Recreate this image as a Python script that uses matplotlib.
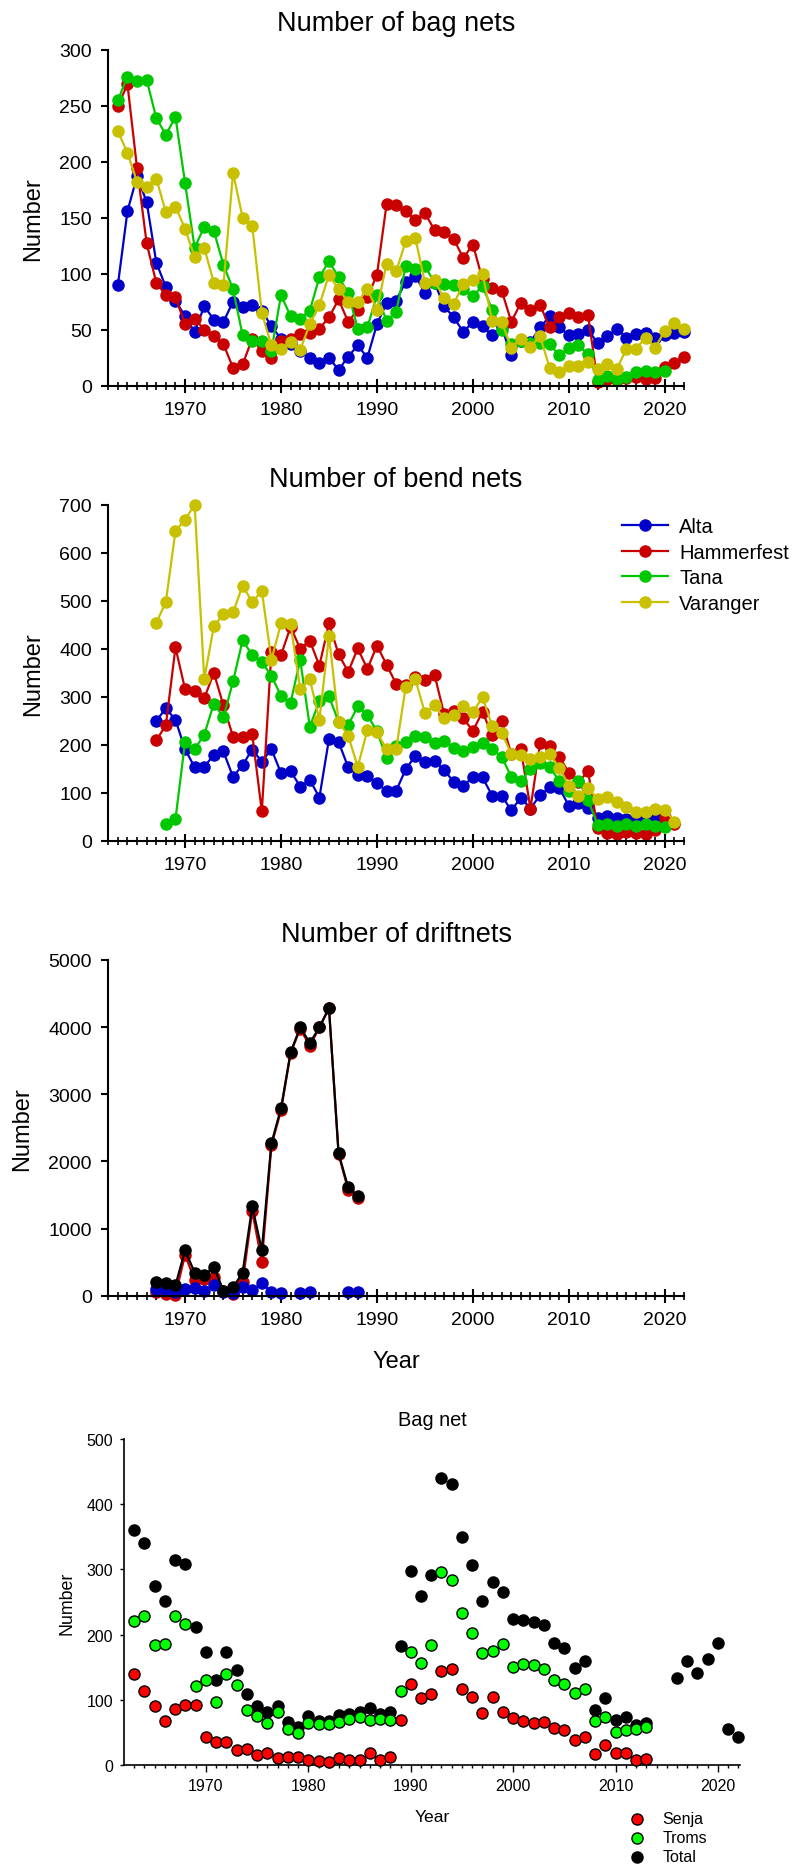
import numpy as np
import matplotlib
matplotlib.use('Agg')
import matplotlib.pyplot as plt
from matplotlib.ticker import MultipleLocator, FixedLocator

plt.rcParams['font.family'] = ['Liberation Sans', 'DejaVu Sans']

nan = np.nan

# Number of bag nets, 1963-2022
years_bag = list(range(1963, 2023))
bag_alta = [90, 156, 187, 164, 110, 88, 76, 62, 48, 71,
            59, 57, 75, 70, 72, 67, 53, 42, 37, 31,
            25, 20, 25, 14, 26, 36, 25, 55, 74, 76,
            93, 98, 83, 92, 71, 61, 48, 57, 53, 45,
            52, 27, 40, 39, 52, 62, 52, 45, 46, 50,
            38, 44, 51, 43, 46, 47, 43, 45, 47, 48]
bag_hammerfest = [250, 269, 194, 127, 92, 81, 79, 55, 60, 50,
                  44, 37, 16, 19, 42, 31, 25, 40, 42, 46,
                  47, 51, 61, 77, 57, 68, 79, 99, 162, 161,
                  156, 148, 154, 139, 137, 131, 114, 126, 95, 87,
                  85, 57, 74, 68, 72, 52, 61, 65, 61, 63,
                  3, 6, 5, 7, 8, 6, 7, 17, 20, 26]
bag_tana = [255, 276, 272, 273, 239, 224, 240, 181, 123, 142,
            138, 108, 86, 45, 40, 40, 31, 81, 62, 60,
            67, 97, 111, 97, 83, 51, 52, 81, 58, 66,
            107, 104, 107, 92, 91, 90, 86, 80, 89, 68,
            50, 37, 40, 38, 38, 37, 27, 34, 36, 28,
            5, 9, 6, 8, 12, 13, 12, 13, nan, nan]
bag_varanger = [227, 208, 182, 177, 185, 155, 160, 140, 115, 123,
                92, 90, 190, 150, 143, 65, 36, 33, 39, 32,
                55, 72, 99, 86, 75, 75, 86, 68, 109, 102,
                129, 132, 92, 94, 78, 73, 91, 94, 100, 58,
                57, 34, 42, 35, 44, 16, 12, 18, 18, 21,
                15, 19, 15, 33, 33, 43, 34, 49, 56, 51]

# Number of bend nets, 1967-2021
years_bend = list(range(1967, 2022))
bend_alta = [250, 276, 252, 191, 153, 154, 179, 186, 133, 158,
             190, 165, 191, 141, 145, 113, 127, 90, 212, 206,
             153, 136, 134, 120, 104, 104, 149, 177, 165, 167,
             147, 123, 115, 132, 132, 94, 94, 63, 90, 67,
             95, 111, 110, 73, 79, 68, 47, 51, 47, 45,
             45, 49, 51, 45, nan]
bend_hammerfest = [209, 241, 403, 316, 313, 297, 350, 282, 217, 217,
                   222, 61, 393, 387, 446, 400, 417, 365, 453, 389,
                   352, 401, 358, 407, 367, 327, 325, 342, 336, 346,
                   264, 271, 255, 229, 269, 220, 249, 181, 191, 67,
                   203, 198, 175, 142, 122, 145, 26, 17, 14, 19,
                   17, 14, 23, 49, 35]
bend_tana = [nan, 35, 45, 206, 191, 221, 286, 257, 332, 418,
             387, 372, 344, 302, 288, 377, 238, 291, 301, 248,
             241, 280, 262, 228, 172, 198, 206, 219, 217, 204,
             207, 193, 188, 195, 204, 191, 175, 133, 125, 149,
             163, 153, 125, 103, 125, 85, 33, 35, 31, 35,
             31, 35, 31, 29, nan]
bend_varanger = [454, 498, 646, 669, 701, 337, 447, 473, 476, 532,
                 497, 521, 377, 453, 452, 316, 337, 252, 427, 248,
                 219, 154, 231, 226, 191, 191, 321, 337, 266, 282,
                 255, 263, 280, 268, 299, 240, 225, 181, 179, 170,
                 174, 181, 152, 115, 94, 110, 87, 92, 80, 70,
                 59, 59, 66, 65, 40]

# Number of driftnets, 1967-1988
years_drift = list(range(1967, 1989))
drift_hammerfest = [60, 20, 10, 610, 230, 255, 280, 65, 20, 205,
                    1260, 505, 2240, 2760, 3615, 3975, 3720, 3995, 4285, 2110,
                    1570, 1455]
drift_alta = [100, 90, 60, 94, 109, 70, 159, 50, 40, 134,
              84, 184, 60, 45, nan, 45, 60, nan, nan, nan,
              60, 50]
drift_total = [205, 195, 155, 675, 345, 305, 432, 75, 124, 343,
               1330, 680, 2270, 2790, 3625, 3997, 3764, 3997, 4285, 2120,
               1614, 1480]

# Bag nets in Troms, 1963-2022
years_troms = list(range(1963, 2023))
senja = [139, 113, 91, 67, 86, 92, 92, 43, 35, 35,
         23, 25, 16, 18, 11, 12, 12, 8, 6, 4,
         11, 8, 8, 18, 8, 13, 69, 124, 102, 109,
         144, 148, 117, 104, 80, 105, 81, 72, 67, 65,
         66, 56, 54, 38, 43, 17, 30, 18, 19, 7,
         9, nan, nan, nan, nan, nan, nan, nan, nan, nan]
troms = [221, 229, 184, 186, 228, 216, 121, 131, 97, 139,
         123, 85, 75, 65, 81, 55, 49, 65, 63, 63,
         66, 71, 73, 69, 71, 69, 114, 174, 157, 184,
         296, 284, 233, 203, 172, 175, 186, 151, 155, 154,
         147, 130, 124, 110, 116, 68, 73, 50, 54, 55,
         58, nan, nan, nan, nan, nan, nan, nan, nan, nan]
total = [360, 341, 275, 252, 314, 308, 212, 174, 131, 173,
         145, 109, 91, 82, 91, 66, 59, 75, 68, 67,
         77, 78, 81, 87, 78, 82, 183, 298, 259, 291,
         440, 431, 349, 307, 251, 280, 266, 224, 223, 220,
         214, 187, 179, 149, 159, 84, 102, 69, 73, 61,
         65, nan, nan, 134, 160, 141, 163, 187, 55, 43]

BLUE = '#0000c8'
RED = '#c80000'
GREEN = '#00c800'
YELLOW = '#c8c000'

W, H = 795, 1865


def rect(left, top, right, bottom):
    return [left / W, 1 - bottom / H, (right - left) / W, (bottom - top) / H]


def style_line_axes(ax, ymax, ystep):
    ax.set_xlim(1962, 2022)
    ax.set_ylim(0, ymax)
    ax.spines['top'].set_visible(False)
    ax.spines['right'].set_visible(False)
    ax.spines['left'].set_linewidth(1.5)
    ax.spines['bottom'].set_linewidth(1.5)
    ax.xaxis.set_major_locator(FixedLocator(range(1970, 2030, 10)))
    ax.xaxis.set_minor_locator(FixedLocator(range(1962, 2023)))
    ax.yaxis.set_major_locator(MultipleLocator(ystep))
    ax.tick_params(axis='x', which='major', direction='inout', length=9.6,
                   width=1.5, pad=6.4, labelsize=14)
    ax.tick_params(axis='x', which='minor', direction='inout', length=5.5, width=1.2)
    ax.tick_params(axis='y', which='major', direction='out', length=4.8,
                   width=1.5, pad=7, labelsize=14)


def line(ax, x, y, color, label=None):
    return ax.plot(x, y, '-o', color=color, lw=1.6, ms=8, label=label,
                   clip_on=False)[0]


fig = plt.figure(figsize=(W / 100, H / 100), dpi=100)

# bag nets
ax1 = fig.add_axes(rect(108.3, 50.7, 684, 386.7))
line(ax1, years_bag, bag_alta, BLUE)
line(ax1, years_bag, bag_hammerfest, RED)
line(ax1, years_bag, bag_tana, GREEN)
line(ax1, years_bag, bag_varanger, YELLOW)
style_line_axes(ax1, 300, 50)
ax1.set_title('Number of bag nets', fontsize=19.5, pad=14)
ax1.set_ylabel('Number', fontsize=17)
ax1.yaxis.set_label_coords(-0.1117, 0.5)

# bend nets
ax2 = fig.add_axes(rect(108.3, 506, 684, 841.7))
h = [line(ax2, years_bend, bend_alta, BLUE, 'Alta'),
     line(ax2, years_bend, bend_hammerfest, RED, 'Hammerfest'),
     line(ax2, years_bend, bend_tana, GREEN, 'Tana'),
     line(ax2, years_bend, bend_varanger, YELLOW, 'Varanger')]
style_line_axes(ax2, 700, 100)
ax2.set_title('Number of bend nets', fontsize=19.5, pad=14)
ax2.set_ylabel('Number', fontsize=17)
ax2.yaxis.set_label_coords(-0.1117, 0.5)
ax2.legend(handles=h, loc='upper left', bbox_to_anchor=(621.7 / W, 1 - 518.5 / H),
           bbox_transform=fig.transFigure, frameon=False, fontsize=14.5,
           handlelength=2.32, handletextpad=0.53, labelspacing=0.32,
           borderpad=0, borderaxespad=0)

# driftnets
ax3 = fig.add_axes(rect(108.3, 961, 684, 1296.7))
line(ax3, years_drift, drift_hammerfest, RED)
line(ax3, years_drift, drift_alta, BLUE)
line(ax3, years_drift, drift_total, 'black')
style_line_axes(ax3, 5000, 1000)
ax3.set_title('Number of driftnets', fontsize=19.5, pad=14)
ax3.set_ylabel('Number', fontsize=17)
ax3.yaxis.set_label_coords(-0.1313, 0.5)
ax3.set_xlabel('Year', fontsize=17)
ax3.xaxis.set_label_coords(0.5, -0.1618)

# bag nets in Troms
ax4 = fig.add_axes(rect(124, 1440, 740, 1766))
ax4.scatter(years_troms, total, s=64, c='black', edgecolors='black',
            linewidths=1, label='Total', clip_on=False, zorder=3)
ax4.scatter(years_troms, troms, s=64, c='#00ff00', edgecolors='black',
            linewidths=1, label='Troms', clip_on=False, zorder=3)
ax4.scatter(years_troms, senja, s=64, c='#ff0000', edgecolors='black',
            linewidths=1, label='Senja', clip_on=False, zorder=3)
ax4.set_xlim(1962, 2022.15)
ax4.set_ylim(0, 500)
ax4.spines['top'].set_visible(False)
ax4.spines['right'].set_visible(False)
ax4.spines['left'].set_linewidth(1.2)
ax4.spines['bottom'].set_linewidth(1.2)
ax4.xaxis.set_major_locator(FixedLocator(range(1970, 2030, 10)))
ax4.xaxis.set_minor_locator(FixedLocator(range(1963, 2023)))
ax4.yaxis.set_major_locator(MultipleLocator(100))
ax4.tick_params(axis='x', which='major', direction='out', length=5, width=1,
                pad=4.5, labelsize=11.5)
ax4.tick_params(axis='x', which='minor', direction='out', length=2.5, width=1)
ax4.tick_params(axis='y', which='major', direction='out', length=3, width=1,
                pad=5, labelsize=11.5)
ax4.set_title('Bag net', fontsize=14.4, pad=10)
ax4.set_ylabel('Number', fontsize=12.8)
ax4.yaxis.set_label_coords(-0.0786, 0.5)
ax4.set_xlabel('Year', fontsize=12.6)
ax4.xaxis.set_label_coords(0.5, -0.1356)
hs, ls = ax4.get_legend_handles_labels()
ax4.legend(hs[::-1], ls[::-1], loc='upper left',
           bbox_to_anchor=(629 / W, 1 - 1812 / H), bbox_transform=fig.transFigure,
           frameon=False, fontsize=11.5, scatterpoints=1, handlelength=1.0,
           handletextpad=1.1, labelspacing=0.25, borderpad=0, borderaxespad=0)

fig.savefig('out.png', dpi=100)
